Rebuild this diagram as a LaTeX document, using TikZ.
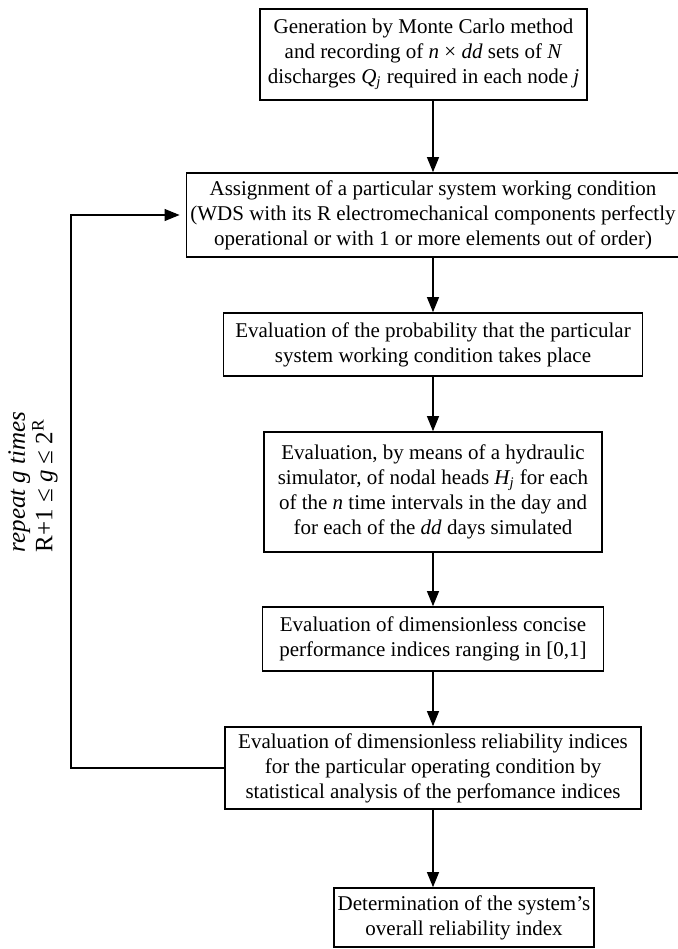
\documentclass[tikz,border=0pt]{standalone}
\usepackage{fontspec}
\setmainfont{Liberation Serif}
\usetikzlibrary{positioning,arrows.meta,calc}

\begin{document}
\begin{tikzpicture}[x=0.5pt,y=-0.5pt,
                    proc node/.style={draw,line width=0.85pt,align=center,inner sep=2pt,
                                      font=\fontsize{10.5}{12.5}\selectfont},
                    flow/.style={-{Triangle[length=7.5pt,width=6pt]},line width=0.55pt}
                   ]
  \useasboundingbox (0,0) rectangle (678,949);
  \node[proc node,minimum width=163.5pt,minimum height=45.5pt] (gen) at (423.5,54.5)
       {Generation by Monte Carlo method\\and recording of \textit{n} × \textit{dd} sets of \textit{N}\\discharges \textit{Q\textsubscript{j}} required in each node \textit{j}};
  \node[proc node,minimum width=239.5pt,minimum height=42pt] (assign) at (433,215)
       {Assignment of a particular system working condition\\(WDS with its R electromechanical components perfectly\\operational or with 1 or more elements out of order)};
  \node[proc node,minimum width=209.5pt,minimum height=31.5pt] (prob) at (433,344.5)
       {Evaluation of the probability that the particular\\system working condition takes place};
  \node[proc node,minimum width=169pt,minimum height=60pt] (sim) at (433,492)
       {Evaluation, by means of a hydraulic\\simulator, of nodal heads \textit{H\textsubscript{j}} for each\\of the \textit{n} time intervals in the day and\\for each of the \textit{dd} days simulated};
  \node[proc node,minimum width=170.5pt,minimum height=32pt] (perf) at (433,639)
       {Evaluation of dimensionless concise\\performance indices ranging in [0,1]};
  \node[proc node,minimum width=208pt,minimum height=41pt] (relia) at (433,768)
       {Evaluation of dimensionless reliability indices\\for the particular operating condition by\\statistical analysis of the perfomance indices};
  \node[proc node,minimum width=106pt,minimum height=29.5pt] (final) at (464,917.5)
       {Determination of the system’s\\overall reliability index};
  \node[rotate=90,align=left,inner sep=1pt,font=\fontsize{12.5}{12}\selectfont] (rep) at (33,482)
       {\textit{repeat g times}\\R+1 ≤ \textit{g} ≤ 2\textsuperscript{R}};
  \coordinate (back) at (71,0);

  \draw[flow] (gen.south -| assign.north) -- (assign.north);
  \path[flow]%
    (assign) edge (prob)
    (prob) edge (sim)
    (sim) edge (perf)
    (perf) edge (relia);
  \draw[flow] (relia.south) -- (relia.south |- final.north);
  % back to the working condition
  \draw[flow,shorten >=3pt] (relia.west) -- (relia.west -| back) |- (assign.west);
\end{tikzpicture}
\end{document}
